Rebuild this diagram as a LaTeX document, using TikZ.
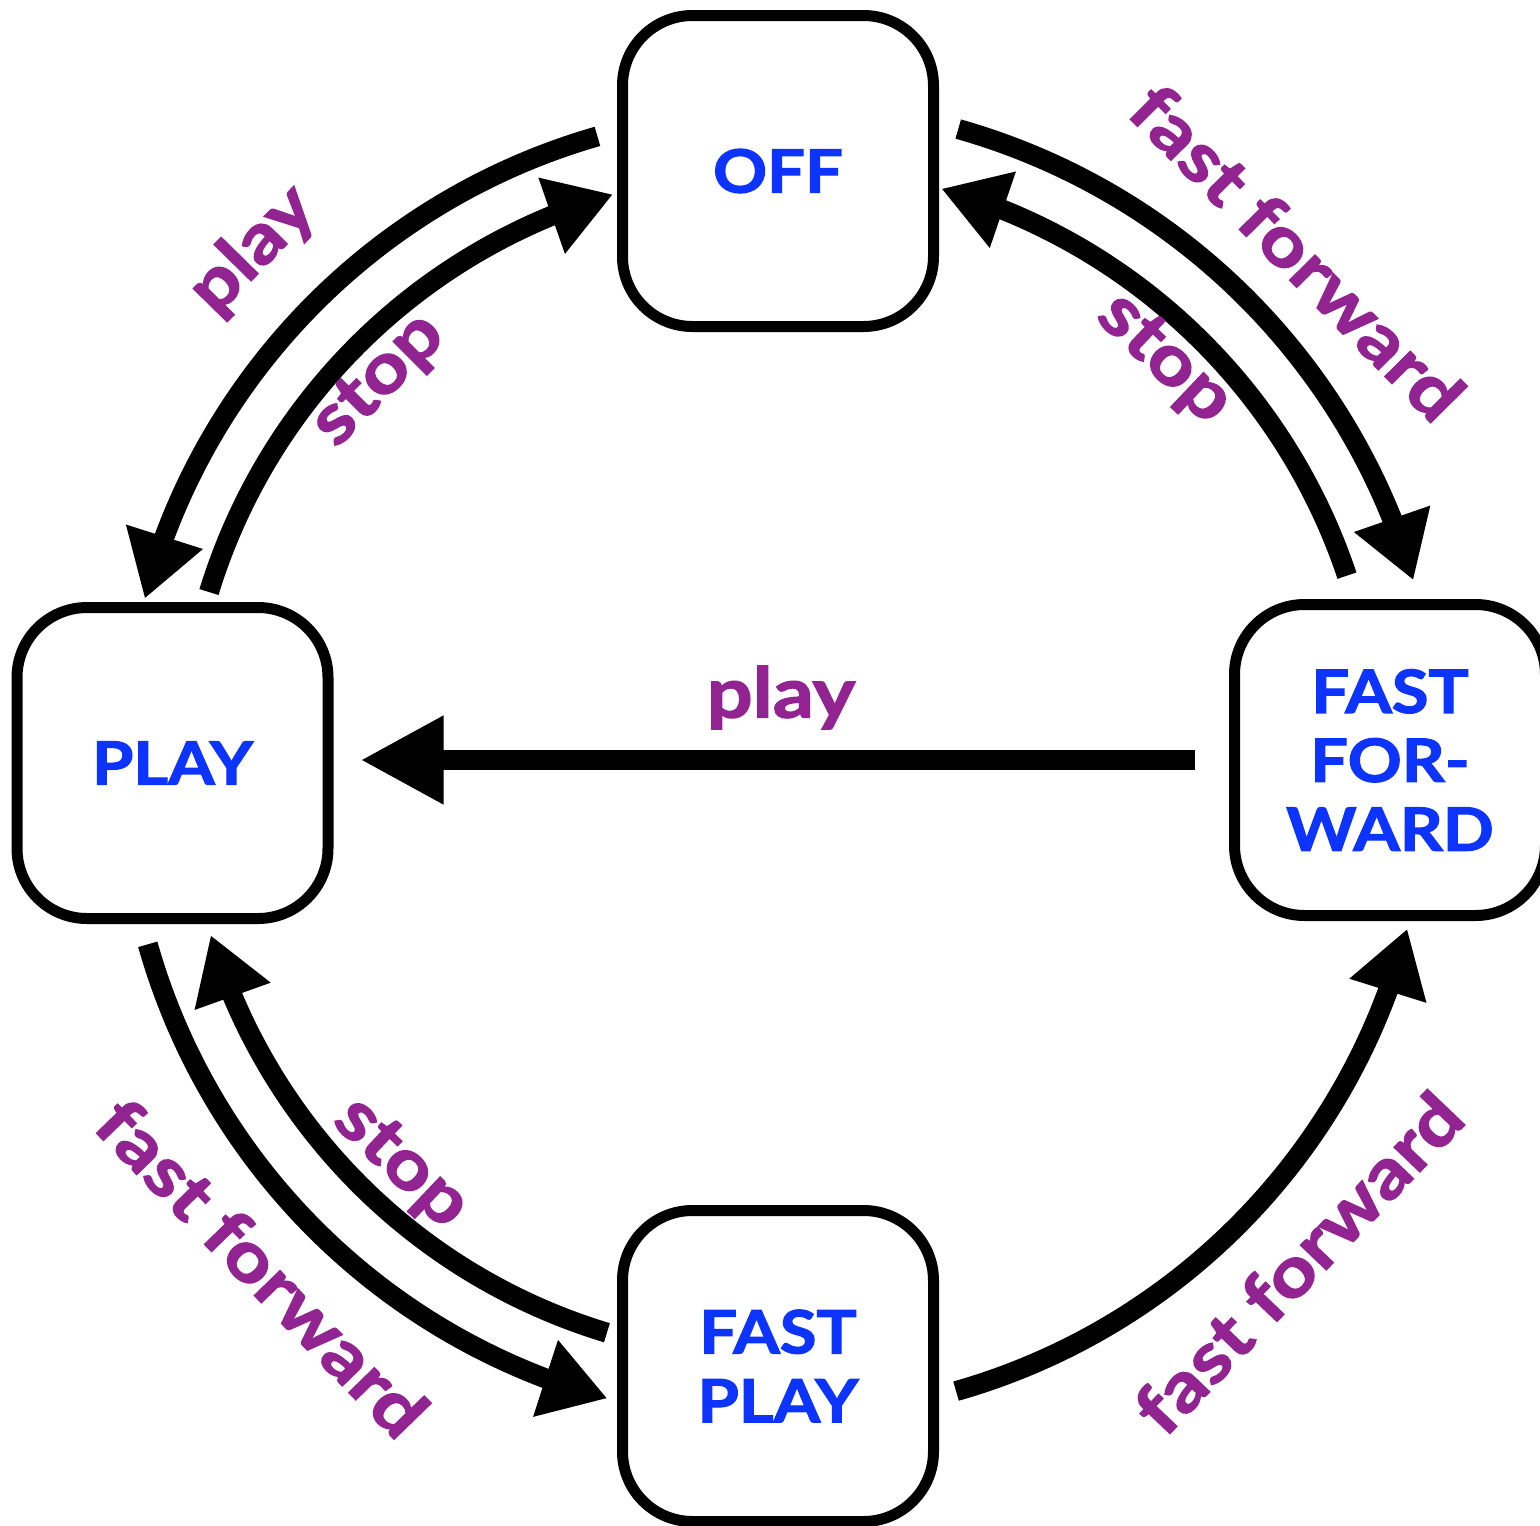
\documentclass[tikz,border=0pt]{standalone}
\usepackage{fontspec}
\setmainfont{Lato}
% heavier, slightly wider faces for state names and transition labels
\newfontfamily\statefont{Lato}[BoldFeatures={FakeStretch=1.12,FakeBold=2}]
\newfontfamily\eventfont{Lato}[BoldFeatures={FakeStretch=1.16,FakeBold=2}]
\usetikzlibrary{arrows.meta,bending}
\definecolor{stateblue}{RGB}{13,51,255}
\definecolor{evpurple}{RGB}{146,36,146}
\begin{document}
\begin{tikzpicture}[
  state/.style={draw, line width=0.11cm, rounded corners=0.7cm,
    minimum width=3.11cm, minimum height=3.11cm, inner sep=0pt,
    align=center, text=stateblue,
    font=\statefont\fontsize{17pt}{19.6pt}\selectfont\bfseries},
  evt/.style={text=evpurple, inner sep=0pt,
    font=\eventfont\fontsize{19.8pt}{21pt}\selectfont\bfseries},
  edge/.style={line width=0.2cm, -{Triangle[length=0.65cm, width=0.76cm]}},
  straightedge/.style={line width=0.2cm, -{Triangle[length=0.83cm, width=0.83cm]}}
]
\useasboundingbox (0,0) rectangle (15.40,-15.26);

% states
\node[state] (off)   at (7.78,-1.71)  {OFF};
\node[state] (play)  at (1.725,-7.63) {PLAY};
\node[state] (ffwd)  at (13.90,-7.60) {FAST\\FOR-\\WARD};
\node[state] (fplay) at (7.78,-13.66) {FAST\\PLAY};

% common centre of the curved transitions
\coordinate (hub) at (7.78,-7.66);

% OFF <-> PLAY
\draw[edge] ([shift={(106:6.55)}]hub) arc[start angle=106, end angle=165.2, radius=6.55];
\draw[edge] ([shift={(163:5.95)}]hub) arc[start angle=163, end angle=106.1, radius=5.95];
% OFF <-> FAST FORWARD
\draw[edge] ([shift={(74.2:6.62)}]hub) arc[start angle=74.2, end angle=16.3, radius=6.62];
\draw[edge] ([shift={(18.5:6.0)}]hub) arc[start angle=18.5, end angle=74.2, radius=6.0];
% PLAY <-> FAST PLAY
\draw[edge] ([shift={(195.8:6.55)}]hub) arc[start angle=195.8, end angle=254.9, radius=6.55];
\draw[edge] ([shift={(253.2:5.92)}]hub) arc[start angle=253.2, end angle=196.6, radius=5.92];
% FAST PLAY -> FAST FORWARD
\draw[edge] ([shift={(285.9:6.5)}]hub) arc[start angle=285.9, end angle=345.5, radius=6.5];
% FAST FORWARD -> PLAY
\draw[straightedge, shorten <=0.34cm, shorten >=0.27cm] (ffwd.west) -- (ffwd.west -| play.east);

% transition labels
\node[evt, rotate=45.5]  at ([shift={(135.5:7.36)}]hub) {play};
\node[evt, rotate=45]    at ([shift={(136:5.54)}]hub)   {stop};
\node[evt, rotate=-45.3] at ([shift={(44.7:7.31)}]hub)  {fast forward};
\node[evt, rotate=-43.5] at ([shift={(46.5:5.60)}]hub)  {stop};
\node[evt, rotate=-45.8] at ([shift={(224.2:7.19)}]hub) {fast forward};
\node[evt, rotate=-43.5] at ([shift={(226.5:5.49)}]hub) {stop};
\node[evt, rotate=46.3]  at ([shift={(316.3:7.19)}]hub) {fast forward};
\node[evt] at (7.81,-6.975) {play};
\end{tikzpicture}
\end{document}
